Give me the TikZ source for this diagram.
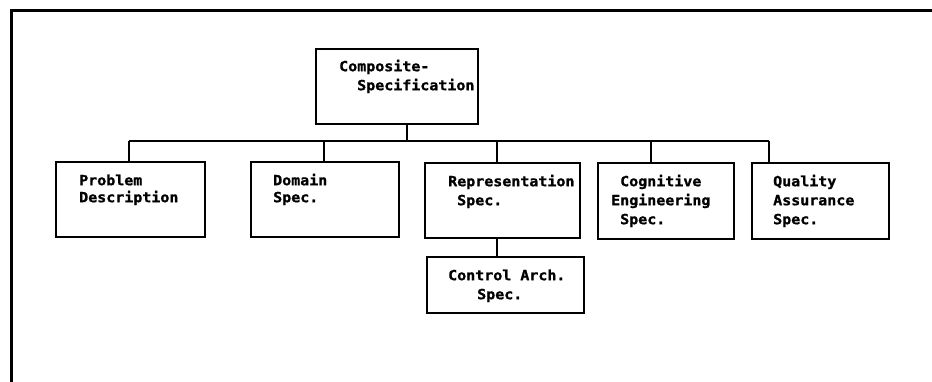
\documentclass[tikz,border=0pt]{standalone}
\usepackage{fontspec}
\newfontfamily\diafont{DejaVu Sans Mono}[FakeStretch=1.07,BoldFeatures={FakeBold=1.2}]
\newcommand{\fl}{\rule{0pt}{12pt}}
\begin{document}
\begin{tikzpicture}[x=1pt,y=-1pt,
  box/.style={draw, line width=1.6pt, inner sep=0pt, anchor=north west},
  txt/.style={anchor=north west, inner sep=0pt, align=left,
    font=\diafont\bfseries\fontsize{14}{19}\selectfont},
  link/.style={line width=1.4pt}]
\useasboundingbox (0,0) rectangle (932,382);
% frame (top and left edges only)
\draw[line width=3pt] (932,11) -- (11,11) -- (11,382);
% boxes
\node[box, minimum width=162pt, minimum height=75pt] (comp) at (315,48) {};
\node[box, minimum width=149pt, minimum height=75pt] (prob) at (55,161) {};
\node[box, minimum width=148pt, minimum height=75pt] (dom)  at (250,161) {};
\node[box, minimum width=155pt, minimum height=75pt] (rep)  at (424,162) {};
\node[box, minimum width=136pt, minimum height=76pt] (cog)  at (597,162) {};
\node[box, minimum width=137pt, minimum height=76pt] (qual) at (751,162) {};
\node[box, minimum width=157pt, minimum height=56pt] (ctrl) at (426,256) {};
% texts
\node[txt] (tcomp) at (339,59) {\fl Composite-\\\hspace*{18pt}Specification};
\node[txt] (tprob) at (79,173) {\fl Problem\\[-2pt]Description};
\node[txt] (tdom)  at (273,173) {\fl Domain\\[-2pt]Spec.};
\node[txt] (trep)  at (448,174) {\fl Representation\\\hspace*{9pt}Spec.};
\node[txt] (tcog)  at (611,174) {\fl\hspace*{9pt}Cognitive\\Engineering\\\hspace*{9pt}Spec.};
\node[txt] (tqual) at (773,174) {\fl Quality\\Assurance\\Spec.};
\node[txt] (tctrl) at (448,268) {\fl Control Arch.\\\hspace*{29pt}Spec.};
% junctions
\coordinate (jc) at (407,141);
\coordinate (j1) at (129,141);
\coordinate (j2) at (324,141);
\coordinate (j3) at (497,141);
\coordinate (j4) at (651,141);
\coordinate (j5) at (769,141);
% connectors
\draw[link] (jc |- comp.south) -- (jc);
\draw[link] (j1) -- (j5);
\draw[link] (j1) -- (j1 |- prob.north);
\draw[link] (j2) -- (j2 |- dom.north);
\draw[link] (j3) -- (j3 |- rep.north);
\draw[link] (j4) -- (j4 |- cog.north);
\draw[link] (j5) -- (j5 |- qual.north);
\draw[link] (j3 |- rep.south) -- (j3 |- ctrl.north);
\end{tikzpicture}
\end{document}
